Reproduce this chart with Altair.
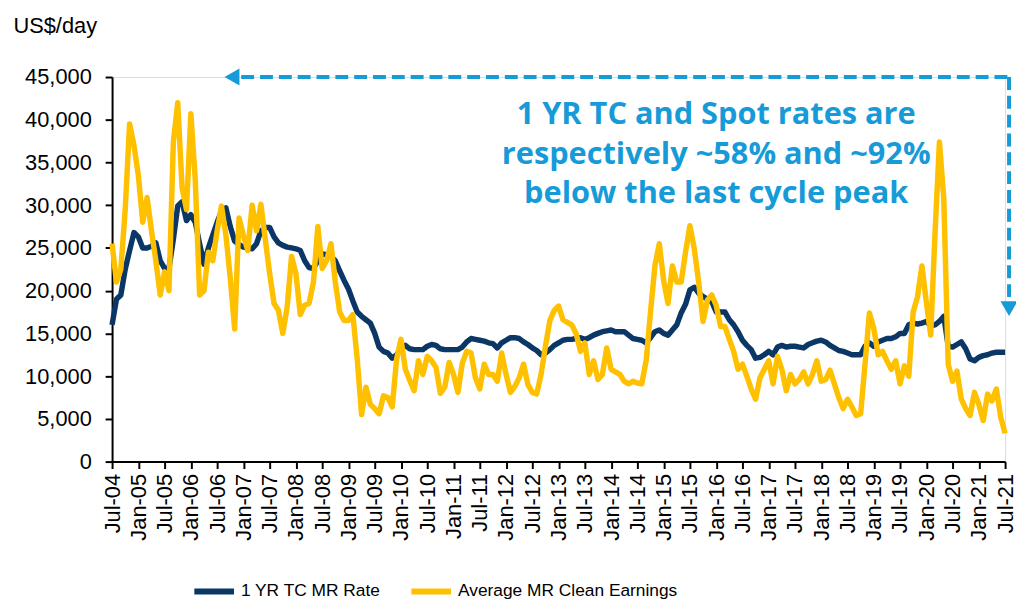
import altair as alt
import pandas as pd

# ---------------- data ----------------
SERIES_TC = "1 YR TC MR Rate"
SERIES_SPOT = "Average MR Clean Earnings"

# monthly, Jul-04 ... Jul-21 (205 months)
tc_rate = [
    16000, 19000, 19500, 22500, 24700, 26800, 26300, 25000, 25000, 25200, 25600, 23500,
    22600, 22600, 26000, 29900, 30400, 28200, 28900, 28000, 25500, 23100, 25000, 26500,
    28000, 29300, 29700, 27500, 25800, 25400, 25100, 25000, 24900, 25500, 27000, 27400,
    27400, 26300, 25600, 25300, 25100, 25000, 24900, 24700, 23500, 22700, 22600, 23500,
    24300, 24200, 24000, 23500, 22300, 21200, 20200, 18800, 17500, 17000, 16600, 16200,
    15000, 13400, 12900, 12700, 12100, 12500, 13200, 13600, 13200, 13100, 13100, 13100,
    13500, 13700, 13600, 13200, 13100, 13100, 13100, 13100, 13400, 14000, 14400, 14300,
    14200, 14100, 13900, 13800, 13300, 13900, 14200, 14500, 14500, 14400, 14000, 13700,
    13300, 13000, 12500, 12700, 13100, 13600, 13900, 14200, 14300, 14300, 14400, 14500,
    14300, 14500, 14800, 15000, 15200, 15300, 15400, 15200, 15200, 15200, 14800, 14400,
    14300, 14200, 13900, 14500, 15200, 15400, 15000, 14800, 15400, 16000, 17400, 18400,
    20100, 20400, 19700, 19300, 19000, 18700, 17500, 17500, 17500, 16600, 16000, 15200,
    14200, 13600, 13100, 12100, 12200, 12500, 12900, 12500, 13400, 13600, 13400, 13500,
    13500, 13400, 13300, 13700, 13900, 14100, 14200, 14000, 13600, 13300, 13000, 12900,
    12700, 12500, 12500, 12500, 13500, 13900, 13500, 14000, 14200, 14400, 14400, 14600,
    15000, 15000, 16000, 16200, 16100, 16200, 16400, 15900, 16000, 16400, 17000, 13500,
    13400, 13700, 14000, 13200, 12000, 11800, 12200, 12400, 12500, 12700, 12800, 12800,
    12800,
]

spot_earnings = [
    25500, 21000, 22500, 29500, 39500, 37000, 33500, 28000, 30900, 27000, 23500, 19500,
    22200, 20000, 37400, 42000, 32000, 29500, 40700, 33000, 19500, 20000, 24500, 23500,
    27000, 29900, 26500, 21500, 15500, 28500, 26500, 24700, 30000, 27000, 30100, 26000,
    22000, 18500, 17700, 15000, 18100, 24000, 22000, 17200, 18300, 18500, 21000, 27500,
    22600, 23500, 25500, 21000, 17500, 16500, 16500, 17200, 12000, 5500, 8700, 6700,
    6200, 5600, 7700, 7500, 6400, 12000, 14300, 10800, 9500, 8300, 11800, 10200,
    12300, 11800, 11000, 8000, 8700, 11600, 10200, 8100, 11500, 12900, 12700, 9800,
    8500, 11400, 10200, 10200, 9400, 12700, 10200, 8100, 8800, 9800, 11400, 9000,
    8100, 7900, 10200, 13500, 16500, 17700, 18200, 16600, 16300, 16000, 15000, 12900,
    13900, 10200, 11800, 9600, 10200, 13300, 10800, 10500, 10200, 9400, 9100, 9400,
    9200, 9100, 11800, 17500, 22900, 25500, 21200, 18500, 22900, 21000, 21000, 24500,
    27600, 24900, 21000, 16400, 18900, 19500, 18300, 15800, 15800, 14300, 12900, 10800,
    11400, 10000, 8500, 7300, 9800, 10800, 11800, 9100, 12300, 10800, 8300, 10200,
    9100, 9600, 10500, 9100, 10200, 11800, 9400, 9600, 10700, 9100, 7500, 6200,
    7300, 6400, 5400, 5600, 11400, 17400, 15600, 12500, 12900, 11800, 10800, 11800,
    9100, 11200, 10000, 17500, 19300, 22900, 18700, 14800, 26800, 37400, 30700, 11400,
    9400, 10600, 7300, 6200, 5400, 8100, 6700, 4800, 7900, 7100, 8500, 5200,
    3300,
]

tick_labels = [
    "Jul-04", "Jan-05", "Jul-05", "Jan-06", "Jul-06", "Jan-07", "Jul-07", "Jan-08",
    "Jul-08", "Jan-09", "Jul-09", "Jan-10", "Jul-10", "Jan-11", "Jul-11", "Jan-12",
    "Jul-12", "Jan-13", "Jul-13", "Jan-14", "Jul-14", "Jan-15", "Jul-15", "Jan-16",
    "Jul-16", "Jan-17", "Jul-17", "Jan-18", "Jul-18", "Jan-19", "Jul-19", "Jan-20",
    "Jul-20", "Jan-21", "Jul-21",
]
tick_months = [6 * i for i in range(len(tick_labels))]
y_ticks = [0, 5000, 10000, 15000, 20000, 25000, 30000, 35000, 40000, 45000]

annotation_lines = [
    "1 YR TC and Spot rates are",
    "respectively ~58% and ~92%",
    "below the last cycle peak",
]
# annotation anchor / arrow positions in data units (month index, US$/day)
ANNOT_MONTH, ANNOT_VALUE = 138, 40500
ARROW_LEFT_TIP_MONTH = 27.4
ARROW_LINE_START = 29.5
ARROW_RIGHT_MONTH = 204.9
ARROW_TOP_VALUE = 45000
ARROW_BOTTOM_LINE = 19000
ARROW_DOWN_HEAD = 17900

# ---------------- styling ----------------
NAVY = "#0B3766"
GOLD = "#FFC000"
BLUE = "#169BD8"
FONT = "Liberation Sans"

n = len(tc_rate)
df = pd.DataFrame({
    "month": list(range(n)) * 2,
    "value": tc_rate + spot_earnings,
    "series": [SERIES_TC] * n + [SERIES_SPOT] * n,
})

label_expr = "[" + ",".join(f"'{t}'" for t in tick_labels) + "][round(datum.value/6)]"

x_scale = alt.Scale(domain=[0, n - 1], nice=False, zero=False)
y_scale = alt.Scale(domain=[0, 45000], nice=False)

X_AXIS = alt.Axis(
    values=tick_months, labelExpr=label_expr, title=None, grid=False,
    labelAngle=270, labelAlign="right", labelBaseline="middle",
    labelFont=FONT, labelFontSize=22, labelColor="black", labelPadding=5,
    labelOverlap=False, labelFlush=False, labelBound=False,
    tickSize=7, tickWidth=2, tickColor="black",
    domainColor="black", domainWidth=2,
)
Y_AXIS = alt.Axis(
    values=y_ticks, format=",.0f", title="US$/day", grid=False,
    titleAngle=0, titleX=-100, titleY=-45, titleAlign="left",
    titleBaseline="alphabetic", titleFont=FONT, titleFontSize=22,
    titleFontWeight="normal", titleColor="black",
    labelFont=FONT, labelFontSize=22, labelColor="black", labelPadding=14,
    tickSize=7, tickWidth=2, tickColor="black",
    domainColor="black", domainWidth=2,
)


def xenc():
    return alt.X("month:Q", scale=x_scale, axis=X_AXIS)


def yenc():
    return alt.Y("value:Q", scale=y_scale, axis=Y_AXIS)


lines = alt.Chart(df).mark_line(strokeWidth=5.5, strokeJoin="round").encode(
    x=xenc(), y=yenc(),
    color=alt.Color("series:N", scale=alt.Scale(domain=[SERIES_TC, SERIES_SPOT], range=[NAVY, GOLD]),
                    legend=alt.Legend(
                        orient="none", legendX=80, legendY=496, direction="horizontal",
                        title=None, symbolType="stroke", symbolSize=1600, symbolStrokeWidth=6,
                        labelFont=FONT, labelFontSize=17.5, labelColor="black",
                        labelOffset=4, columnPadding=19, labelLimit=400,
                    )),
)

hline_df = pd.DataFrame({"month": [ARROW_LINE_START], "month2": [ARROW_RIGHT_MONTH], "value": [ARROW_TOP_VALUE]})
vline_df = pd.DataFrame({"month": [ARROW_RIGHT_MONTH], "value": [ARROW_TOP_VALUE], "value2": [ARROW_BOTTOM_LINE]})
left_head_df = pd.DataFrame({"month": [ARROW_LEFT_TIP_MONTH], "value": [ARROW_TOP_VALUE]})
down_head_df = pd.DataFrame({"month": [ARROW_RIGHT_MONTH], "value": [ARROW_DOWN_HEAD]})
text_df = pd.DataFrame({"month": [ANNOT_MONTH], "value": [ANNOT_VALUE], "txt": [annotation_lines]})

hline = alt.Chart(hline_df).mark_rule(color=BLUE, strokeWidth=4, strokeDash=[13, 6]).encode(
    x=xenc(), x2="month2:Q", y=yenc())
vline = alt.Chart(vline_df).mark_rule(color=BLUE, strokeWidth=4, strokeDash=[13, 6]).encode(
    x=xenc(), y=yenc(), y2="value2:Q")
left_head = alt.Chart(left_head_df).mark_point(shape="triangle-left", filled=True, size=300,
                                               color=BLUE, opacity=1).encode(x=xenc(), y=yenc())
down_head = alt.Chart(down_head_df).mark_point(shape="triangle-down", filled=True, size=300,
                                               color=BLUE, opacity=1).encode(x=xenc(), y=yenc())
annot = alt.Chart(text_df).mark_text(font="Open Sans", fontWeight="bold", fontSize=31,
                                     color=BLUE, align="center", baseline="middle",
                                     lineHeight=39.5).encode(x=xenc(), y=yenc(), text="txt")

chart = alt.layer(lines, hline, vline, left_head, down_head, annot).properties(
    width=901, height=388,
    autosize=alt.AutoSizeParams(type="none"),
    padding={"left": 105, "top": 67, "right": 11, "bottom": 138},
).configure_view(strokeWidth=0).configure(font=FONT)

chart.save("out.html", embed_options={"renderer": "svg", "actions": False})
